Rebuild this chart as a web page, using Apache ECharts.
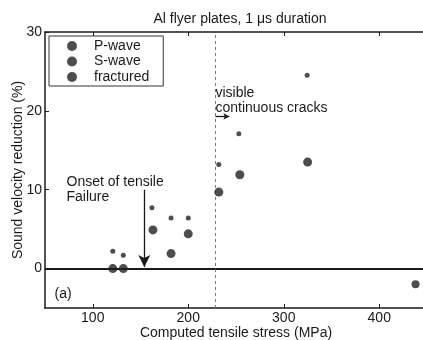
<!DOCTYPE html>
<html>
<head>
<meta charset="utf-8">
<script src="https://cdn.jsdelivr.net/npm/echarts@6/dist/echarts.min.js"></script>
<style>html,body{margin:0;padding:0;background:#fff}#c{width:423px;height:340px}</style>
</head>
<body>
<div id="c"></div>
<script>
var titleText = 'Al flyer plates, 1 \u03bcs duration';
var xName = 'Computed tensile stress (MPa)';
var yName = 'Sound velocity reduction (%)';
var xTicks = [100, 200, 300, 400];
var yTicks = [0, 10, 20, 30];
var pWave = [[121, 0], [132, 0], [163, 4.9], [182, 1.9], [200, 4.4], [232, 9.7], [254, 11.9], [325, 13.5]];
var sWave = [[121, 2.2], [132, 1.7], [162, 7.7], [182, 6.4], [200, 6.4], [232, 13.2], [253, 17.1], [324.5, 24.5]];
var fractured = [[438, -2.0]];
var crackStress = 228;
var onsetStress = 154;

var font = 'Liberation Sans, Arial, sans-serif';
var ink = '#1a1a1a';
var chart = echarts.init(document.getElementById('c'));
chart.setOption({
  animation: false,
  backgroundColor: '#fff',
  title: {
    text: titleText, left: 235, top: 7, textAlign: 'center',
    textStyle: {fontFamily: font, fontSize: 14, fontWeight: 'normal', color: ink}
  },
  legend: {
    orient: 'vertical', left: 49, top: 36,
    padding: [3, 14, 2, 18], itemGap: 1.5, itemWidth: 10, itemHeight: 10,
    borderColor: '#333', borderWidth: 1,
    textStyle: {fontFamily: font, fontSize: 14, color: ink, padding: [0, 0, 0, 12]},
    data: [
      {name: 'P-wave', icon: 'circle'},
      {name: 'S-wave', icon: 'circle'},
      {name: 'fractured', icon: 'circle'}
    ]
  },
  grid: {left: 45, right: -4, top: 32, bottom: 32, outerBoundsMode: 'none', containLabel: false},
  xAxis: [{
    type: 'value', min: 50, max: 450, position: 'bottom',
    name: xName, nameLocation: 'middle', nameGap: 18, nameMoveOverlap: false,
    nameTextStyle: {fontFamily: font, fontSize: 14, color: ink},
    axisLine: {show: true, onZero: false, lineStyle: {color: ink, width: 1.5}},
    axisTick: {show: true, inside: true, length: 4, customValues: xTicks, lineStyle: {color: ink}},
    axisLabel: {customValues: xTicks, fontFamily: font, fontSize: 14, color: ink, margin: 3},
    splitLine: {show: false}
  }, {
    type: 'value', min: 50, max: 450, position: 'top',
    axisLine: {show: true, onZero: false, lineStyle: {color: ink, width: 1.5}},
    axisTick: {show: true, inside: true, length: 4, customValues: xTicks, lineStyle: {color: ink}},
    axisLabel: {show: false},
    splitLine: {show: false}
  }],
  yAxis: {
    type: 'value', min: -5, max: 30,
    name: yName, nameLocation: 'middle', nameGap: 20, nameMoveOverlap: false,
    nameTextStyle: {fontFamily: font, fontSize: 14, color: ink},
    axisLine: {show: true, onZero: false, lineStyle: {color: ink, width: 1.5}},
    axisTick: {show: true, inside: true, length: 4, customValues: yTicks, lineStyle: {color: ink}},
    axisLabel: {customValues: yTicks, fontFamily: font, fontSize: 14, color: ink, margin: 3},
    splitLine: {show: false}
  },
  series: [{
    name: 'P-wave', type: 'scatter', data: pWave, symbol: 'circle', symbolSize: 9,
    itemStyle: {color: '#222'}, z: 5,
    markLine: {
      silent: true, symbol: 'none', animation: false, label: {show: false},
      data: [
        {yAxis: 0, lineStyle: {color: ink, width: 2, type: 'solid'}},
        {xAxis: crackStress, lineStyle: {color: '#777', width: 1, type: [3, 3]}}
      ]
    }
  }, {
    name: 'S-wave', type: 'scatter', data: sWave, symbol: 'circle', symbolSize: 5,
    itemStyle: {color: '#222'}, z: 5,
    markLine: {
      silent: true, animation: false, label: {show: false},
      data: [
        [{coord: [onsetStress, 10], symbol: 'none'}, {coord: [onsetStress, 0.2], symbol: 'arrow', symbolSize: [9, 12]}],
        [{coord: [228.5, 19.3], symbol: 'none'}, {coord: [243, 19.3], symbol: 'arrow', symbolSize: [5, 6]}]
      ],
      lineStyle: {color: ink, width: 1.3, type: 'solid'}
    },
    markPoint: {
      silent: true, symbol: 'circle', symbolSize: 0, animation: false,
      label: {show: true, position: 'right', distance: 0, fontFamily: font, fontSize: 14, color: ink, lineHeight: 15, align: 'left'},
      data: [
        {coord: [72.5, 10.0], value: 0, label: {formatter: 'Onset of tensile\nFailure'}},
        {coord: [228.5, 21.3], value: 0, label: {formatter: 'visible\ncontinuous cracks'}},
        {coord: [60, -3.2], value: 0, label: {formatter: '(a)'}}
      ]
    }
  }, {
    name: 'fractured', type: 'scatter', data: fractured, symbol: 'circle', symbolSize: 8,
    itemStyle: {color: '#222'}, z: 5
  }]
});
</script>
</body>
</html>
